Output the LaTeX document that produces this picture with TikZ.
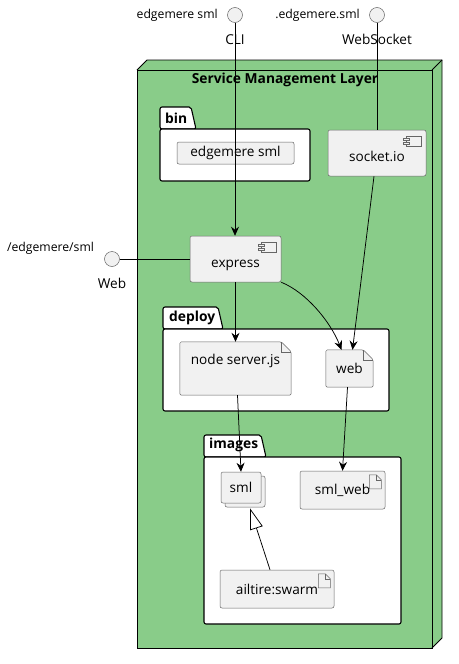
\documentclass[tikz,border=0pt]{standalone}
\usepackage{fontspec}
\setmainfont{Open Sans}
\usetikzlibrary{arrows.meta,calc}
\pgfdeclarelayer{back}
\pgfdeclarelayer{mid}
\pgfsetlayers{back,mid,main}
\definecolor{layergreen}{RGB}{137,204,137}
\definecolor{elemgray}{RGB}{241,241,241}

\begin{document}
\begin{tikzpicture}[x=1pt,y=-1pt,
    font=\fontsize{13.6}{16}\selectfont,
    elem/.style={draw=black!60,line width=0.5pt,fill=elemgray,rounded corners=2pt},
    plain/.style={minimum width=#1,draw=none,fill=none},
    pkg/.style={draw=black,line width=1.1pt,fill=white,rounded corners=2pt},
    pkgname/.style={font=\fontsize{13.8}{16}\selectfont\bfseries,anchor=west,inner sep=0pt},
    iface/.style={circle,draw=black!60,line width=0.5pt,fill=elemgray,minimum size=15pt,inner sep=0pt},
    small/.style={font=\fontsize{12.2}{14}\selectfont},
    icon/.style={draw=black!60,line width=0.5pt,rounded corners=0pt},
    link/.style={line width=0.75pt},
    arr/.style={link,-{Stealth[length=9pt,width=8pt,inset=3pt]}},
    inherit/.style={link,-{Triangle[open,fill=white,length=21pt,width=13pt]}}]
    \useasboundingbox (0,0) rectangle (458,664);

    % outer layer and packages
    \begin{pgfonlayer}{back}
    \fill [layergreen] (137,70) -- (147,60) -- (442,60) -- (442,638) -- (432,648) -- (137,648) -- cycle;
    \draw [line width=0.8pt] (137,70) rectangle (432,648);
    \draw [line width=0.8pt] (137,70) -- (147,60) -- (442,60) -- (442,638) -- (432,648);
    \draw [line width=0.8pt] (432,70) -- (442,60);
    % bin
    \draw [pkg] (160,129) -- (160,107) -- (191,107) -- (196,129) -- cycle;
    \draw [pkg] (160,129) rectangle (310,181);
    % deploy
    \draw [pkg] (163,329) -- (163,307) -- (218,307) -- (223,329) -- cycle;
    \draw [pkg] (163,329) rectangle (389,411);
    % images
    \draw [pkg] (204,457) -- (204,435) -- (261,435) -- (266,457) -- cycle;
    \draw [pkg] (204,457) rectangle (401,624);
    \end{pgfonlayer}

    \node [font=\fontsize{13.8}{16}\selectfont\bfseries] (layer) at (285,80) {Service Management Layer};
    \node [pkgname] (bin) at (165,118) {bin};
    \node [pkgname] (deploy) at (169,318) {deploy};
    \node [pkgname] (images) at (209,445) {images};

    % interfaces
    \node [iface,label={[small,label distance=6pt]left:edgemere sml},label={[label distance=8pt]below:CLI}] (cli) at (235,15) {};
    \node [iface,label={[small,label distance=6pt]left:.edgemere.sml},label={[label distance=8pt]below:WebSocket}] (ws) at (377,15) {};
    \node [iface,label={[small,xshift=-9pt,yshift=-4pt]north west:/edgemere/sml},label={[label distance=8pt]below:Web}] (webi) at (112,259) {};

    % components
    \node [elem,minimum width=117pt,minimum height=22pt] (smlcmd) at (235.5,153) {edgemere sml};
    \node [elem,minimum width=98pt,minimum height=46pt,text height=21pt,text depth=3.6pt] (socket) at (377,153) {socket.io\hspace{10pt}};
    \node [elem,minimum width=91pt,minimum height=46pt,text height=21pt,text depth=3.6pt] (express) at (235.5,259) {express\hspace{9pt}};
    \foreach \c in {socket,express} {
        \draw [icon,fill=elemgray] ($(\c.north east)+(-20,6)$) rectangle ($(\c.north east)+(-5,16)$);
        \draw [icon,fill=elemgray] ($(\c.north east)+(-23,8)$) rectangle ($(\c.north east)+(-17,10.5)$);
        \draw [icon,fill=elemgray] ($(\c.north east)+(-23,12)$) rectangle ($(\c.north east)+(-17,14.5)$);
    }

    % files
    \node [plain=111pt,minimum height=53pt,text height=10.4pt,text depth=18.1pt] (server) at (235.5,368.5) {node server.js};
    \node [plain=47pt,minimum height=37pt] (webfile) at (349.5,368.5) {web};
    \begin{pgfonlayer}{mid}
    \foreach \f in {server,webfile} {
        \draw [elem,rounded corners=1.5pt] (\f.north west) -- ($(\f.north east)+(-10,0)$) -- ($(\f.north east)+(0,10)$) -- (\f.south east) -- (\f.south west) -- cycle;
        \draw [icon] ($(\f.north east)+(-10,0)$) |- ($(\f.north east)+(0,10)$);
    }
    \end{pgfonlayer}

    % images
    \node [elem,minimum width=40pt,minimum height=31pt] (smlback) at (245,491.5) {};
    \node [elem,minimum width=40pt,minimum height=31pt] (sml) at (241,487.5) {sml};
    \node [elem,minimum width=85pt,minimum height=38pt] (smlweb) at (342.5,490) {sml\_web\hspace{9pt}};
    \node [elem,minimum width=114pt,minimum height=38pt] (swarm) at (277,589) {ailtire:swarm\hspace{18pt}};
    \foreach \n in {smlweb,swarm} {
        \draw [icon] ($(\n.north east)+(-16,4)$) -- ++(7,0) -- ++(5,5) -- ++(0,9) -- ++(-12,0) -- cycle;
        \draw [icon] ($(\n.north east)+(-9,4)$) |- ++(5,5);
    }

    % connectors
    \draw [arr] (cli.south) -- (cli.south |- express.north);
    \draw [link] (ws.south) -- (socket.north);
    \draw [link] (webi.east) -- (express.west);
    \draw [arr] (express.south) -- (server.north);
    \draw [arr] (express.south east) .. controls ($(express.south east)+(25,10)$) and ($(webfile.north)+(-19,-28)$) .. ($(webfile.north)+(-8,0)$);
    \draw [arr] ($(socket.south)+(-3,0)$) -- ($(webfile.north)+(3,0)$);
    \draw [arr] ($(server.south)+(2,0)$) -- (sml.north);
    \draw [arr] ($(webfile.south)+(-2,0)$) -- (smlweb.north);
    \draw [inherit] ($(swarm.north)+(-7,0)$) -- ($(smlback.south)+(5,1)$);
\end{tikzpicture}
\end{document}
